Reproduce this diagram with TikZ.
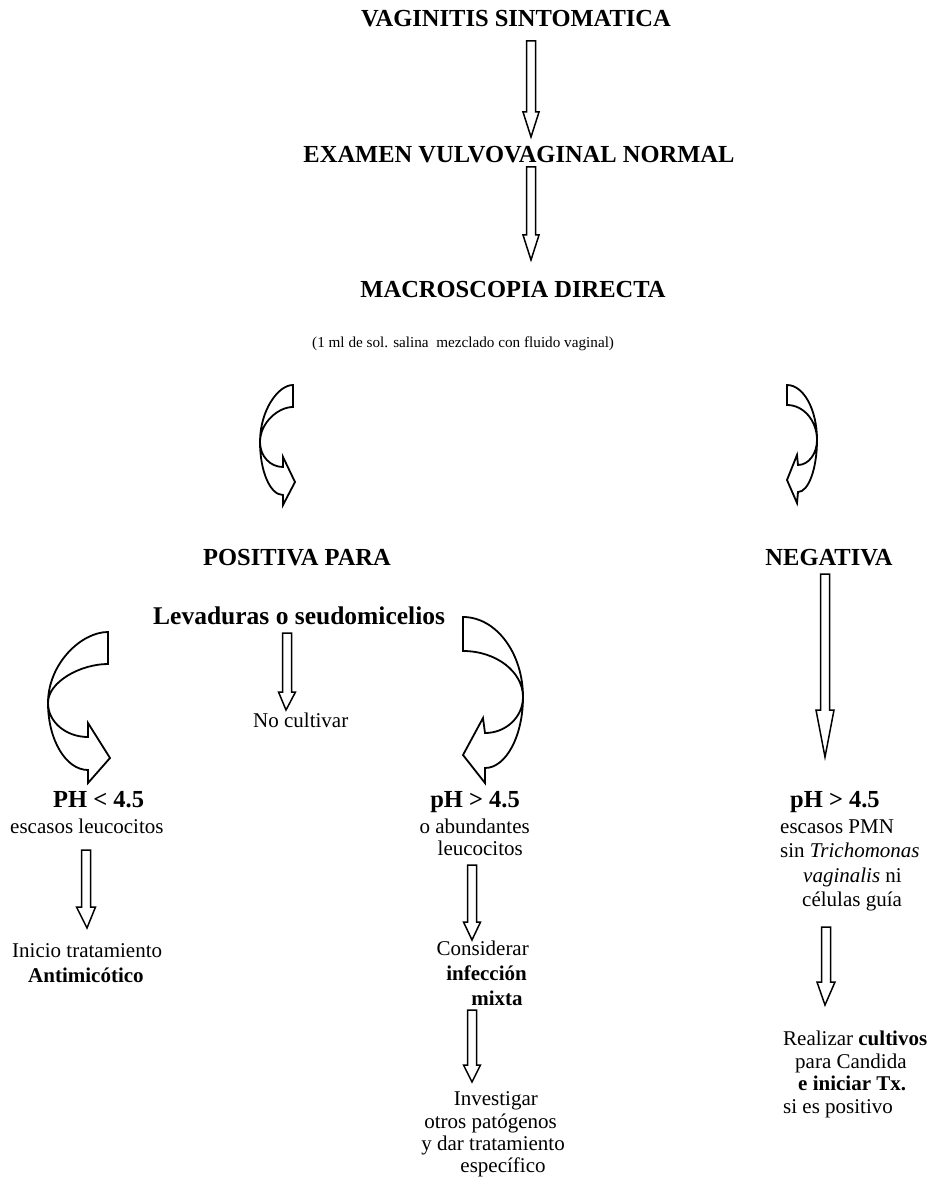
\documentclass[tikz,border=0pt]{standalone}
\usepackage{fontspec}
\setmainfont{Liberation Serif}
\usetikzlibrary{calc}
\tikzset{
  blk/.style={draw, line width=1.5pt, fill=white, line join=miter},
  carrow/.style={draw, line width=1.8pt, fill=white, line join=miter},
  hd/.style={font=\fontsize{24.5}{28}\selectfont\bfseries, inner sep=0pt},
  hdl/.style={font=\fontsize{25.5}{28}\selectfont\bfseries, inner sep=0pt},
  bd/.style={font=\fontsize{21}{24}\selectfont, inner sep=0pt},
  bdb/.style={font=\fontsize{21}{24}\selectfont\bfseries, inner sep=0pt},
  sm/.style={font=\fontsize{15.2}{18}\selectfont, inner sep=0pt},
}
% block arrow: #1 start coordinate, #2 tip coordinate, #3 head length, #4 head half width
\newcommand\blockarrow[4]{%
  \draw[blk] let \p1=(#1), \p2=(#2) in
    (\x1-4.5pt,\y1) -- (\x1+4.5pt,\y1) -- (\x1+4.5pt,\y2+#3) -- (\x1+#4,\y2+#3)
    -- (\x2,\y2) -- (\x1-#4,\y2+#3) -- (\x1-4.5pt,\y2+#3) -- cycle;}
\begin{document}
\begin{tikzpicture}[x=1pt,y=-1pt]
\useasboundingbox (0,0) rectangle (938,1182);

% ---- headings
\node[hd, anchor=base] (t1) at (516,27) {VAGINITIS SINTOMATICA};
\node[hd, anchor=base] (t2) at (519,163) {EXAMEN VULVOVAGINAL NORMAL};
\node[hd, anchor=base] (t3) at (513,297) {MACROSCOPIA DIRECTA};
\node[sm, anchor=base west] (t4) at (312,347) {(1 ml de sol. salina\ \ mezclado con fluido vaginal)};

\node[hd, anchor=base west] (pos) at (203,565) {POSITIVA PARA};
\node[hd, anchor=base] (neg) at (829,565) {NEGATIVA};
\node[hdl, anchor=base west] (lev) at (153,624) {Levaduras o seudomicelios};
\node[bd, anchor=base west] (nocu) at (253,727) {No cultivar};

% left column
\node[hd, anchor=base west] (ph1) at (53,807) {PH < 4.5};
\node[bd, anchor=base west] (ph1b) at (10,833) {escasos leucocitos};
\node[bd, anchor=base west] (ini) at (12,957) {Inicio tratamiento};
\node[bdb, anchor=base west] (anti) at (28,982) {Antimicótico};

% middle column
\node[hd, anchor=base east] (ph2) at (520,807) {pH > 4.5};
\node[bd, anchor=base east] (ph2b) at (530,833) {o abundantes};
\node[bd, anchor=base east] (ph2c) at (523,855) {leucocitos};
\node[bd, anchor=base east] (cons) at (529,955) {Considerar};
\node[bdb, anchor=base east] (infe) at (527,980) {infección};
\node[bdb, anchor=base] (mixt) at (497,1005) {mixta};
\node[bd, anchor=base east] (inv1) at (538,1105) {Investigar};
\node[bd, anchor=base east] (inv2) at (557,1128) {otros patógenos};
\node[bd, anchor=base east] (inv3) at (565,1150) {y dar tratamiento};
\node[bd, anchor=base] (inv4) at (503,1172) {específico};

% right column
\node[hd, anchor=base west] (ph3) at (790,807) {pH > 4.5};
\node[bd, anchor=base west] (r1) at (780,833) {escasos PMN};
\node[bd, anchor=base west] (r2) at (780,857) {sin \textit{Trichomonas}};
\node[bd, anchor=base west] (r3) at (803,882) {\textit{vaginalis} ni};
\node[bd, anchor=base west] (r4) at (802,906) {células guía};
\node[bd, anchor=base west] (r5) at (783,1045) {Realizar \textbf{cultivos}};
\node[bd, anchor=base west] (r6) at (795,1068) {para Candida};
\node[bdb, anchor=base west] (r7) at (798,1090) {e iniciar Tx.};
\node[bd, anchor=base west] (r8) at (783,1113) {si es positivo};

% ---- straight block arrows
\coordinate (a1s) at (531,41);   \coordinate (a1e) at (531,137);
\coordinate (a2s) at (531,167);  \coordinate (a2e) at (531,260);
\coordinate (a3s) at (287,633);  \coordinate (a3e) at (286,710);
\coordinate (a4s) at (825,574);  \coordinate (a4e) at (825,757);
\coordinate (a5s) at (86,850);   \coordinate (a5e) at (87,928);
\coordinate (a6s) at (472,865);  \coordinate (a6e) at (472,940);
\coordinate (a7s) at (472,1010); \coordinate (a7e) at (472,1082);
\coordinate (a8s) at (826,927);  \coordinate (a8e) at (825,1005);
\blockarrow{a1s}{a1e}{25pt}{8pt}
\blockarrow{a2s}{a2e}{25pt}{8pt}
\blockarrow{a3s}{a3e}{18pt}{8.5pt}
\blockarrow{a4s}{a4e}{47pt}{9pt}
\blockarrow{a5s}{a5e}{21pt}{9.5pt}
\blockarrow{a6s}{a6e}{18pt}{8.5pt}
\blockarrow{a7s}{a7e}{17pt}{8.5pt}
\blockarrow{a8s}{a8e}{23pt}{9pt}

% ---- curved arrows
% top left
\draw[carrow] (293,407) -- (293,385)
  .. controls (278,385) and (260,410.5) .. (260,442)
  .. controls (260,471) and (270,495) .. (283,495)
  -- (283,505) -- (295,482) -- (283,457) -- (283,467)
  .. controls (270,467) and (260,456) .. (260,442)
  .. controls (260,423) and (278,407) .. (293,407) -- cycle;
% top right
\draw[carrow] (787,405) -- (787,385)
  .. controls (803.6,385) and (817,409.6) .. (817,440)
  .. controls (817,468.7) and (808.5,492) .. (798,492)
  -- (797,503) -- (787,480) -- (797,455) -- (798,465)
  .. controls (808.5,465) and (817,453.8) .. (817,440)
  .. controls (817,420.7) and (803.6,405) .. (787,405) -- cycle;
% lower left
\draw[carrow] (108,664) -- (108,632)
  .. controls (81,632) and (48,664) .. (48,703)
  .. controls (48,740) and (66,770) .. (88,770)
  -- (88,783) -- (110,758) -- (88,723) -- (88,737)
  .. controls (66,737) and (48,722) .. (48,703)
  .. controls (48,681.5) and (81,664) .. (108,664) -- cycle;
% lower right
\draw[carrow] (463,651) -- (463,617)
  .. controls (496,617) and (523,653) .. (523,697)
  .. controls (523,736) and (506,768) .. (485,768)
  -- (485,783) -- (463,755) -- (483,718) -- (485,733)
  .. controls (506,733) and (523,717) .. (523,697)
  .. controls (523,671.6) and (496,651) .. (463,651) -- cycle;
\end{tikzpicture}
\end{document}
